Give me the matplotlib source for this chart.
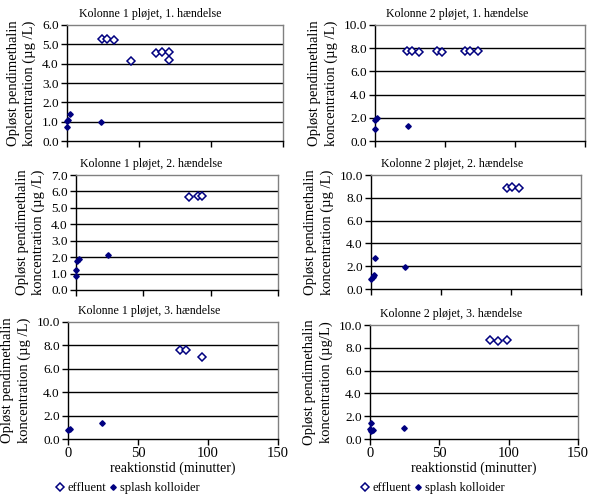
import matplotlib
matplotlib.use("Agg")
import matplotlib.pyplot as plt
from matplotlib.lines import Line2D

plt.rcParams['font.family'] = ['Liberation Serif', 'DejaVu Serif']

NAVY = '#000080'

titles = [
    "Kolonne 1 pløjet, 1. hændelse",
    "Kolonne 2 pløjet, 1. hændelse",
    "Kolonne 1 pløjet, 2. hændelse",
    "Kolonne 2 pløjet, 2. hændelse",
    "Kolonne 1 pløjet, 3. hændelse",
    "Kolonne 2 pløjet, 3. hændelse",
]
ylabels = [
    "Opløst pendimethalin\nkoncentration (µg /L)",
    "Opløst pendimethalin\nkoncentration (µg /L)",
    "Opløst pendimethalin\nkoncentration (µg /L)",
    "Opløst pendimethalin\nkoncentration (µg /L)",
    "Opløst pendimethalin\nkoncentration (µg /L)",
    "Opløst pendimethalin\nkoncentration (µg/L)",
]
ymax = [6.0, 10.0, 7.0, 10.0, 10.0, 10.0]
ystep = [1.0, 2.0, 1.0, 2.0, 2.0, 2.0]

# effluent (open diamonds)
eff_x1 = [24.3, 27.8, 32.6, 44.2, 62.0, 65.7, 70.6, 70.6]
eff_y1 = [5.27, 5.27, 5.22, 4.14, 4.54, 4.59, 4.59, 4.18]
eff_x2 = [22.7, 26.2, 31.5, 44.2, 48.0, 64.0, 67.8, 73.3]
eff_y2 = [7.75, 7.80, 7.69, 7.80, 7.69, 7.78, 7.78, 7.75]
eff_x3 = [84.0, 90.4, 93.3]
eff_y3 = [5.67, 5.71, 5.71]
eff_x4 = [96.9, 100.7, 105.5]
eff_y4 = [8.89, 8.95, 8.89]
eff_x5 = [79.8, 84.0, 95.5]
eff_y5 = [7.57, 7.63, 6.97]
eff_x6 = [86.4, 92.1, 98.6]
eff_y6 = [8.72, 8.63, 8.72]

# splash colloids (filled diamonds)
spl_x1 = [0.0, 0.2, 0.9, 1.9, 23.8]
spl_y1 = [0.73, 1.04, 1.07, 1.39, 1.00]
spl_x2 = [0.0, 0.0, 1.2, 23.6]
spl_y2 = [1.07, 1.79, 2.00, 1.33]
spl_x3 = [0.0, 0.0, 0.7, 2.0, 23.5]
spl_y3 = [0.87, 1.19, 1.78, 1.88, 2.13]
spl_x4 = [0.2, 1.2, 1.9, 2.9, 24.3]
spl_y4 = [0.87, 1.02, 1.25, 2.71, 1.95]
spl_x5 = [0.0, 1.7, 24.5]
spl_y5 = [0.77, 0.86, 1.34]
spl_x6 = [0.0, 0.7, 0.5, 1.9, 24.2]
spl_y6 = [0.90, 1.37, 0.73, 0.79, 0.93]

eff = [(eff_x1, eff_y1), (eff_x2, eff_y2), (eff_x3, eff_y3),
       (eff_x4, eff_y4), (eff_x5, eff_y5), (eff_x6, eff_y6)]
spl = [(spl_x1, spl_y1), (spl_x2, spl_y2), (spl_x3, spl_y3),
       (spl_x4, spl_y4), (spl_x5, spl_y5), (spl_x6, spl_y6)]

xticks = [0, 50, 100, 150]
xlabel = "reaktionstid (minutter)"

W, H = 592, 499
# plot-area boxes in pixels: left, right, top, bottom
boxes = [
    (67, 283, 25, 141),
    (375, 585, 25, 141),
    (76, 278, 175, 290),
    (371, 581, 175, 289),
    (68, 278, 322, 439),
    (370, 578, 325, 439),
]
# title centre x (pixels)
title_cx = [150, 457, 151, 452, 149, 451]
legend_x = [56, 361]

EFF_MS, SPL_MS = 3.6, 2.8

fig = plt.figure(figsize=(W / 100, H / 100), dpi=100)

for i in range(6):
    l, r, t, b = boxes[i]
    ax = fig.add_axes([l / W, 1 - b / H, (r - l) / W, (b - t) / H])
    n = int(round(ymax[i] / ystep[i]))
    yt = [k * ystep[i] for k in range(n + 1)]
    ax.set_ylim(0, ymax[i])
    ax.set_xlim(0, 150)
    ax.set_yticks(yt)
    ax.set_yticklabels([f"{v:.1f}" for v in yt], fontsize=9.5)
    ax.set_xticks(xticks)
    for y in yt[1:-1]:
        ax.axhline(y, color='black', lw=1.0, zorder=1)
    for s in ['top', 'right']:
        ax.spines[s].set_color('#808080')
        ax.spines[s].set_linewidth(1.0)
    for s in ['left', 'bottom']:
        ax.spines[s].set_color('black')
        ax.spines[s].set_linewidth(1.0)
    ax.tick_params(direction='out', length=4, width=1, pad=2)
    ttl = ax.set_title(titles[i], fontsize=8.6, pad=6)
    ttl.set_x((title_cx[i] - l) / (r - l))
    ax.set_ylabel(ylabels[i], fontsize=10.5, labelpad=4, linespacing=1.3)
    ex, ey = eff[i]
    sx, sy = spl[i]
    ax.plot(sx, sy, linestyle='none', marker='D', ms=SPL_MS, mfc=NAVY, mec=NAVY,
            zorder=3, clip_on=False)
    ax.plot(ex, ey, linestyle='none', marker='D', ms=EFF_MS, mfc='white', mec=NAVY,
            mew=1.1, zorder=3, clip_on=False)
    if i >= 4:
        ax.set_xticklabels([str(v) for v in xticks], fontsize=10.5)
        ax.set_xlabel(xlabel, fontsize=10, labelpad=1)
        handles = [
            Line2D([], [], linestyle='none', marker='D', ms=EFF_MS, mfc='white',
                   mec=NAVY, mew=1.1, label='effluent'),
            Line2D([], [], linestyle='none', marker='D', ms=SPL_MS, mfc=NAVY,
                   mec=NAVY, label='splash kolloider'),
        ]
        fig.legend(handles=handles, loc='center left',
                   bbox_to_anchor=(legend_x[i - 4] / W, 1 - 488 / H), ncol=2,
                   frameon=False, fontsize=9, handlelength=0.6,
                   handletextpad=0.3, columnspacing=0.25, borderaxespad=0,
                   borderpad=0)
    else:
        ax.set_xticklabels([])

fig.savefig("out.png", dpi=100)
